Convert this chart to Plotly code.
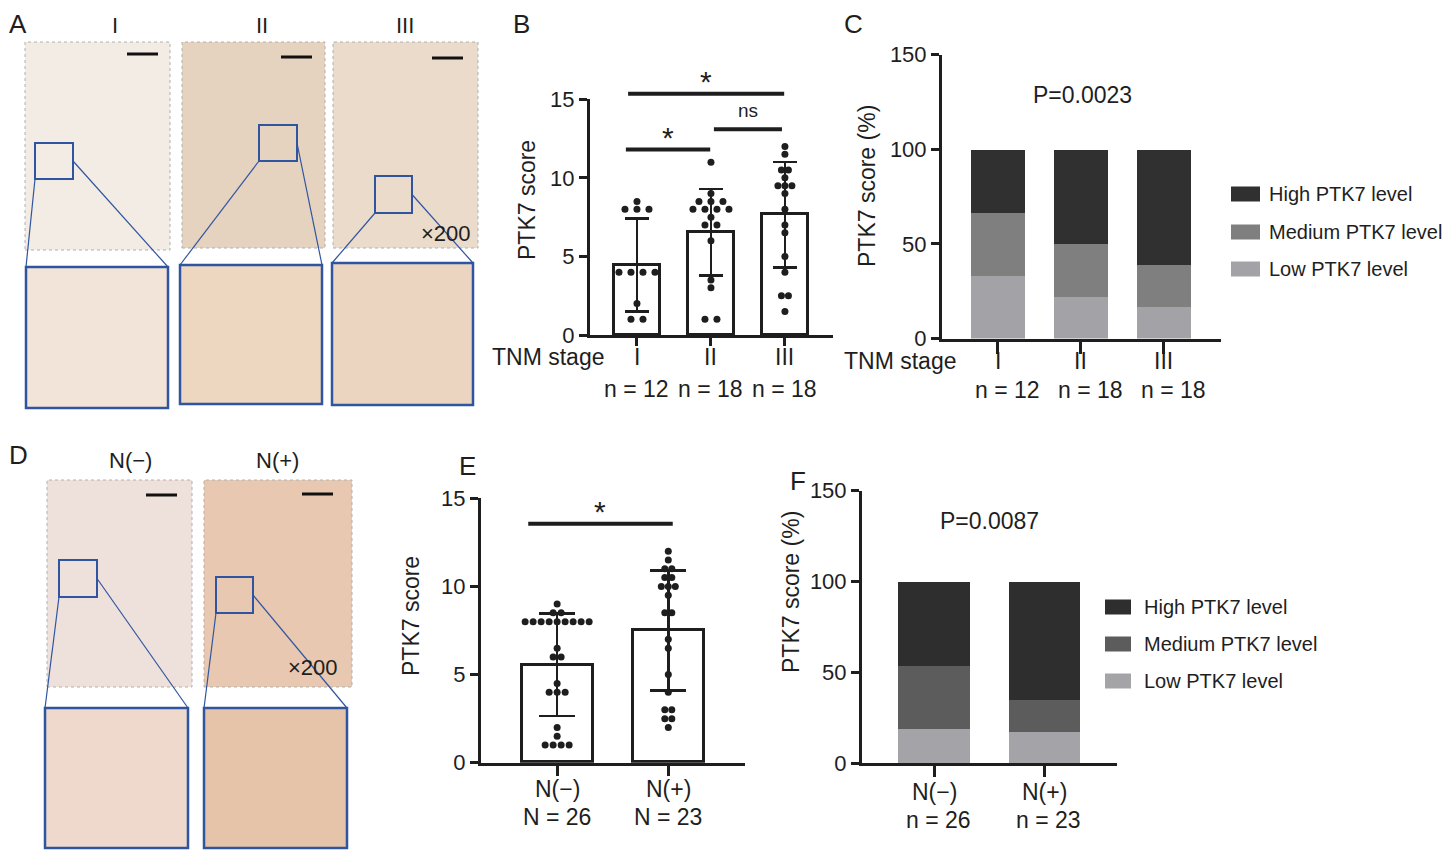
import plotly.graph_objects as go

W, H = 1452, 853
OX, OY = 8, 8  # the page body keeps its default 8px margin
FW, FH = W - OX, H - OY
FONT = "Liberation Sans, Arial, sans-serif"
INK = "#1e1e1e"
BOX_BLUE = "#2f55a0"

# ---- data ----
tnm_stages = ["I", "II", "III"]
tnm_n = [12, 18, 18]
tnm_mean = [4.45, 6.55, 7.65]
tnm_sd = [2.95, 2.75, 3.35]
tnm_scores_I = [8.5, 8, 8, 8, 4, 4, 4, 4, 2, 1, 1]
tnm_scores_II = [11, 9, 8.5, 8.5, 8.5, 8, 8, 8, 8, 7.5, 7, 7, 6, 3.5, 3, 1, 1]
tnm_scores_III = [12, 11.5, 10.5, 10.5, 10, 9.5, 9.5, 9.5, 9, 8, 7, 6.5, 5, 4, 2.5, 2.5, 1.5]

levels = ["High PTK7 level", "Medium PTK7 level", "Low PTK7 level"]
tnm_high = [33.3, 50.0, 61.1]
tnm_medium = [33.4, 27.8, 22.2]
tnm_low = [33.3, 22.2, 16.7]
tnm_p = "P=0.0023"

node_groups = ["N(\u2212)", "N(+)"]
node_n = [26, 23]
node_mean = [5.55, 7.5]
node_sd = [2.9, 3.4]
node_scores_neg = [9, 8.5, 8.5, 8, 8, 8, 8, 8, 8, 8, 8, 8, 6.5, 6, 6, 4.5, 4, 4, 4, 2, 1.5, 1, 1, 1, 1]
node_scores_pos = [12, 11.5, 11, 11, 10.5, 10.5, 10, 10, 10, 9.5, 8.5, 8.5, 7, 6.5, 5, 4, 3, 3, 2.5, 2.5, 2]

node_high = [46.2, 65.2]
node_medium = [34.6, 17.4]
node_low = [19.2, 17.4]
node_p = "P=0.0087"

# significance brackets: (x from, x to, height, label)
tnm_brackets = [(-0.12, 1.99, 15.35, "*"), (-0.15, 0.99, 11.8, "*"), (1.04, 1.96, 13.1, "ns")]
node_brackets = [(-0.26, 1.04, 13.55, "*")]

# ---- panel geometry (pixels in the 1452x853 page) ----
PANELS = {
    "B": dict(xa="xaxis", ya="yaxis", x="x", y="y", px=(590, 833), py=(335, 99.3), xr=(-0.635, 2.65), yr=(0, 15)),
    "C": dict(xa="xaxis2", ya="yaxis2", x="x2", y="y2", px=(942, 1221), py=(338.5, 54.5), xr=(-0.675, 2.69), yr=(0, 150)),
    "E": dict(xa="xaxis3", ya="yaxis3", x="x3", y="y3", px=(481, 745), py=(762.7, 498.3), xr=(-0.685, 1.69), yr=(0, 15)),
    "F": dict(xa="xaxis4", ya="yaxis4", x="x4", y="y4", px=(862, 1117), py=(763.3, 490.7), xr=(-0.655, 1.66), yr=(0, 150)),
}


def pxx(px):
    return (px - OX) / FW


def pxy(py):
    return 1 - (py - OY) / FH


def to_paper(p, x, y):
    fx = (x - p["xr"][0]) / (p["xr"][1] - p["xr"][0])
    fy = (y - p["yr"][0]) / (p["yr"][1] - p["yr"][0])
    px = p["px"][0] + fx * (p["px"][1] - p["px"][0])
    py = p["py"][0] + fy * (p["py"][1] - p["py"][0])
    return pxx(px), pxy(py)


def cat_px(p, i):
    return to_paper(p, i, 0)[0] * FW + OX


def px_per_unit(p):
    return (p["px"][1] - p["px"][0]) / (p["xr"][1] - p["xr"][0])


def note(fig, text, px, py, size=23, xanchor="center", **kw):
    fig.add_annotation(
        x=pxx(px), y=pxy(py), xref="paper", yref="paper", text=text, showarrow=False,
        font=dict(size=size, color=INK, family=FONT), xanchor=xanchor, yanchor="middle", **kw
    )


def rect(fig, x0, y0, x1, y1, fill=None, line_color=None, width=0, dash=None, layer="above"):
    fig.add_shape(
        type="rect", xref="paper", yref="paper", x0=pxx(x0), x1=pxx(x1), y0=pxy(y0), y1=pxy(y1),
        fillcolor=fill if fill else "rgba(0,0,0,0)",
        line=dict(color=line_color if line_color else "rgba(0,0,0,0)", width=width, dash=dash),
        layer=layer,
    )


def seg(fig, x0, y0, x1, y1, color=INK, width=1):
    fig.add_shape(
        type="line", xref="paper", yref="paper", x0=pxx(x0), x1=pxx(x1), y0=pxy(y0), y1=pxy(y1),
        line=dict(color=color, width=width),
    )


def spread(values, center, step):
    counts = {}
    for v in values:
        counts[v] = counts.get(v, 0) + 1
    seen = {}
    xs = []
    for v in values:
        k = counts[v]
        i = seen.get(v, 0)
        seen[v] = i + 1
        xs.append(center + (i - (k - 1) / 2) * step)
    return xs


def setup_axes(fig, p, n_cats, ytickvals, ticklen):
    fig.update_layout({
        p["xa"]: dict(
            domain=[pxx(p["px"][0]), pxx(p["px"][1])], range=list(p["xr"]), anchor=p["y"],
            tickvals=list(range(n_cats)), showticklabels=False, ticks="outside", ticklen=ticklen,
            tickwidth=3, tickcolor=INK, showline=True, linewidth=3, linecolor=INK,
            showgrid=False, zeroline=False, fixedrange=True, automargin=False,
        ),
        p["ya"]: dict(
            domain=[pxy(p["py"][0]), pxy(p["py"][1])], range=list(p["yr"]), anchor=p["x"],
            tickvals=ytickvals, ticks="outside", ticklen=8, tickwidth=3, tickcolor=INK,
            showline=True, linewidth=3, linecolor=INK, showgrid=False, zeroline=False,
            tickfont=dict(size=22, color=INK, family=FONT), fixedrange=True, automargin=False,
        ),
    })


def category_labels(fig, p, labels, counts, prefix, y_label, y_count, dx=0):
    for i, (lab, n) in enumerate(zip(labels, counts)):
        note(fig, lab, cat_px(p, i), y_label)
        note(fig, f"{prefix} = {n}", cat_px(p, i) + dx, y_count)


def score_panel(fig, p, n_cats, means, sds, scores, steps, cap, width):
    fig.add_trace(go.Bar(
        x=list(range(n_cats)), y=means, width=width, xaxis=p["x"], yaxis=p["y"],
        marker=dict(color="white", line=dict(color=INK, width=3)),
        error_y=dict(type="data", array=sds, thickness=2.5, width=cap, color=INK),
        showlegend=False,
    ))
    for i, vals in enumerate(scores):
        fig.add_trace(go.Scatter(
            x=spread(vals, i, steps[i] / px_per_unit(p)), y=vals, mode="markers",
            xaxis=p["x"], yaxis=p["y"], cliponaxis=False,
            marker=dict(size=7, color=INK), showlegend=False,
        ))


def bracket_marks(fig, p, brackets):
    for x0, x1, yv, label in brackets:
        a = to_paper(p, x0, yv)
        b = to_paper(p, x1, yv)
        fig.add_shape(type="line", xref="paper", yref="paper", x0=a[0], y0=a[1], x1=b[0], y1=b[1],
                      line=dict(color=INK, width=4))
        is_star = label == "*"
        fig.add_annotation(
            x=(a[0] + b[0]) / 2, y=a[1] + (-6 if is_star else 6) / FH, xref="paper", yref="paper",
            text=label, showarrow=False, yanchor="bottom",
            font=dict(size=30 if is_star else 19, color=INK, family=FONT),
        )


def stacked_panel(fig, p, n_cats, low, medium, high, colors, width):
    for vals, color, name in ((low, colors[2], levels[2]), (medium, colors[1], levels[1]), (high, colors[0], levels[0])):
        fig.add_trace(go.Bar(
            x=list(range(n_cats)), y=vals, width=width, name=name, xaxis=p["x"], yaxis=p["y"],
            marker=dict(color=color, line=dict(width=0)), showlegend=False,
        ))


def level_legend(fig, x0, box_w, rows_y, text_x, colors):
    for name, color, yc in zip(levels, colors, rows_y):
        rect(fig, x0, yc + 7.5, x0 + box_w, yc - 7.5, fill=color)
        note(fig, name, text_x, yc, size=20, xanchor="left")


def tissue(fig, frame, fill, small, inset, scale_bar):
    x0, y0, x1, y1 = frame
    rect(fig, x0, y1, x1, y0, fill=fill, line_color="#b0b0b0", width=1, dash="dot", layer="below")
    sx0, sy0, sx1, sy1 = small
    rect(fig, sx0, sy1, sx1, sy0, line_color=BOX_BLUE, width=2)
    ix0, iy0, ix1, iy1, ifill = inset
    rect(fig, ix0, iy1, ix1, iy0, fill=ifill, line_color=BOX_BLUE, width=2.5)
    seg(fig, sx0, sy1, ix0, iy0, color=BOX_BLUE, width=1.2)
    seg(fig, sx1, (sy0 + sy1) / 2, ix1, iy0, color=BOX_BLUE, width=1.2)
    bx0, bx1, by = scale_bar
    seg(fig, bx0, by, bx1, by, color="#111111", width=3)


fig = go.Figure()

# ---- B ----
pB = PANELS["B"]
setup_axes(fig, pB, len(tnm_stages), [0, 5, 10, 15], 8)
score_panel(fig, pB, len(tnm_stages), tnm_mean, tnm_sd, [tnm_scores_I, tnm_scores_II, tnm_scores_III], [12, 12, 7], 12, 0.62)
bracket_marks(fig, pB, tnm_brackets)
note(fig, "PTK7 score", 527, 200, textangle=-90)
note(fig, "TNM stage", 548, 357)
category_labels(fig, pB, tnm_stages, tnm_n, "n", 357, 389)

# ---- C ----
pC = PANELS["C"]
c_colors = ["#303030", "#7f7f7f", "#a3a3a7"]
setup_axes(fig, pC, len(tnm_stages), [0, 50, 100, 150], 12)
stacked_panel(fig, pC, len(tnm_stages), tnm_low, tnm_medium, tnm_high, c_colors, 0.65)
note(fig, "PTK7 score (%)", 867, 186, textangle=-90)
note(fig, tnm_p, 1082, 95)
note(fig, "TNM stage", 900, 361)
category_labels(fig, pC, tnm_stages, tnm_n, "n", 361, 390, dx=10)
level_legend(fig, 1231, 29, [194, 232, 269], 1267, c_colors)

# ---- E ----
pE = PANELS["E"]
setup_axes(fig, pE, len(node_groups), [0, 5, 10, 15], 10)
score_panel(fig, pE, len(node_groups), node_mean, node_sd, [node_scores_neg, node_scores_pos], [8, 7], 18, 0.64)
bracket_marks(fig, pE, node_brackets)
note(fig, "PTK7 score", 411, 616, textangle=-90)
category_labels(fig, pE, node_groups, node_n, "N", 789, 817)

# ---- F ----
pF = PANELS["F"]
f_colors = ["#2e2e2e", "#5c5c5c", "#a4a4a8"]
setup_axes(fig, pF, len(node_groups), [0, 50, 100, 150], 11)
stacked_panel(fig, pF, len(node_groups), node_low, node_medium, node_high, f_colors, 0.65)
note(fig, "PTK7 score (%)", 791, 592, textangle=-90)
note(fig, node_p, 989, 521)
category_labels(fig, pF, node_groups, node_n, "n", 792, 820, dx=4)
level_legend(fig, 1105, 26, [607, 644, 681], 1142, f_colors)

# ---- A: IHC micrographs (flat placeholders) ----
tissue(fig, (25, 42, 170, 250), "#f3ece5", (35, 143, 73, 179), (26, 267, 168, 408, "#f2e4d8"), (127, 158, 54))
tissue(fig, (182, 42, 325, 248), "#e5d2bf", (259, 125, 297, 161), (180, 265, 322, 404, "#eed7c0"), (281, 312, 57))
tissue(fig, (333, 42, 478, 248), "#ebdbca", (375, 176, 412, 213), (332, 263, 473, 405, "#ebd5c1"), (432, 463, 58))
for label, cx in zip(tnm_stages, [115, 262, 405]):
    note(fig, label, cx, 26, size=22)
note(fig, "\u00d7200", 446, 233, size=22)

# ---- D ----
tissue(fig, (47, 480, 192, 687), "#eee1dc", (59, 560, 97, 597), (45, 708, 188, 848, "#eed9cc"), (146, 177, 495))
tissue(fig, (204, 480, 352, 687), "#e8c8b0", (216, 577, 253, 613), (204, 708, 347, 848, "#e6c4aa"), (302, 333, 494))
for label, cx in zip(node_groups, [130, 277]):
    note(fig, label, cx, 460, size=22)
note(fig, "\u00d7200", 313, 667, size=22)

# ---- panel letters ----
for letter, x, y in (("A", 18, 24), ("B", 521, 24), ("C", 853, 24), ("D", 18, 455), ("E", 467, 466), ("F", 798, 481)):
    note(fig, letter, x, y, size=26)

fig.update_layout(
    width=FW, height=FH, margin=dict(l=0, r=0, t=0, b=0, pad=0),
    paper_bgcolor="white", plot_bgcolor="white",
    barmode="stack", bargap=0, showlegend=False,
    font=dict(family=FONT, color=INK),
)

fig.write_html("out.html")
